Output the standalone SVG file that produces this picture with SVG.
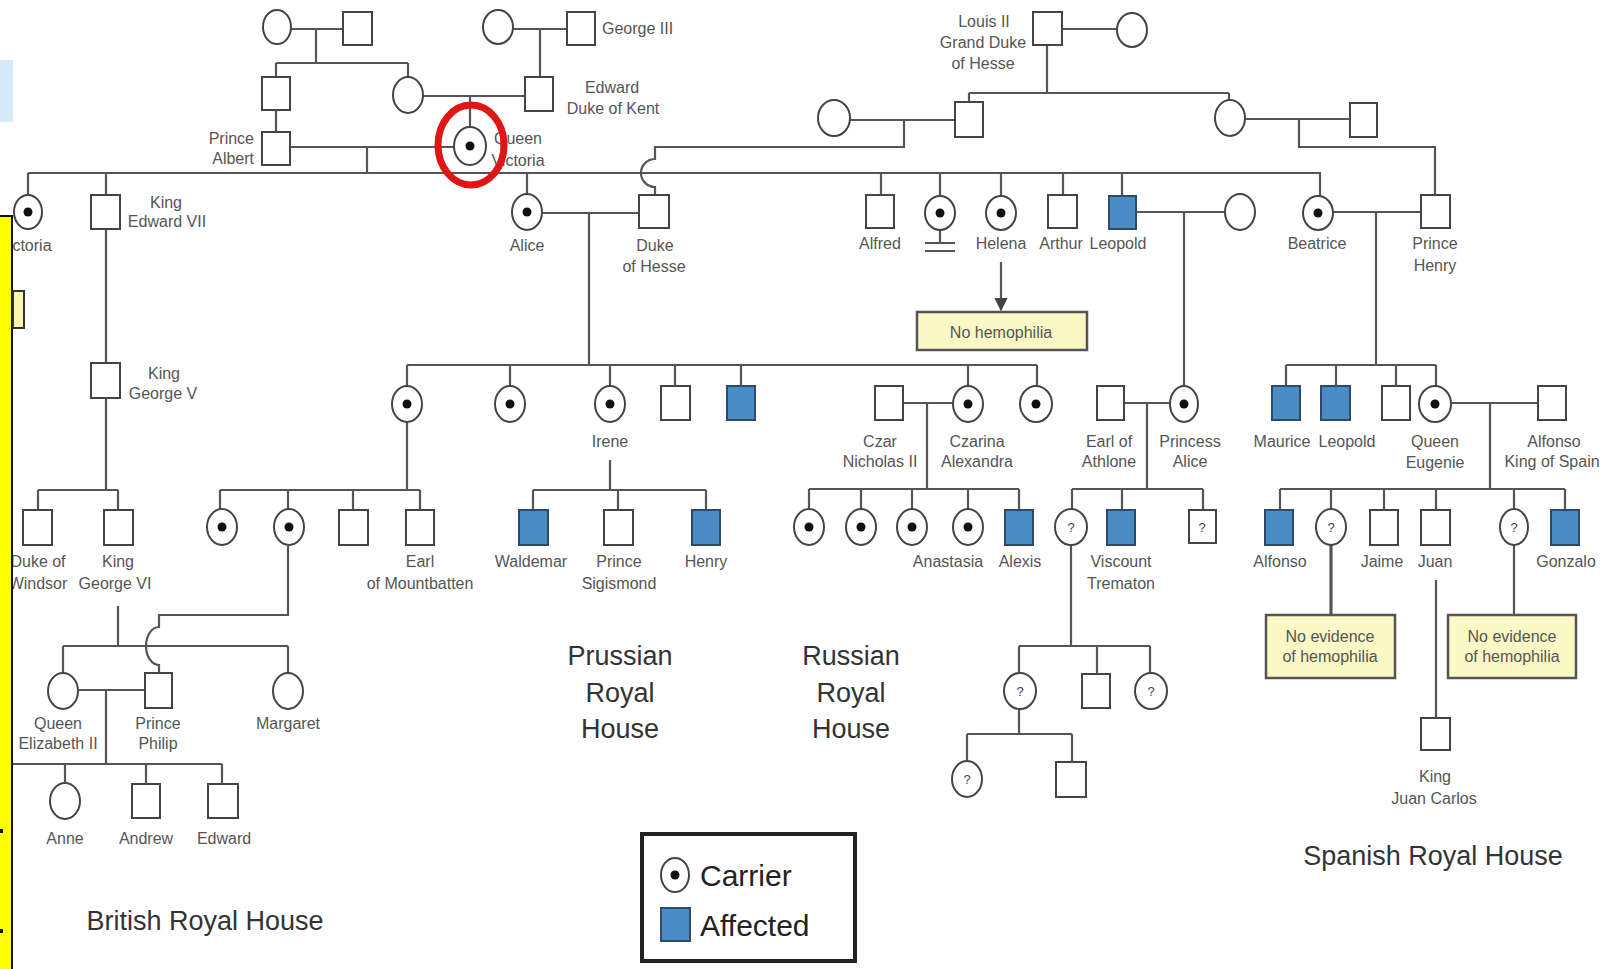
<svg xmlns="http://www.w3.org/2000/svg" width="1618" height="969" viewBox="0 0 1618 969">
<style>
.ln{stroke:#555;stroke-width:2.2;fill:none}
.thk{stroke:#555;stroke-width:3.2;fill:none}
.s{fill:#fff;stroke:#444;stroke-width:2}
.a{fill:#4b8bc6;stroke:#2f4a66;stroke-width:2}
.d{fill:#111}
.t{font-family:"Liberation Sans",Arial,sans-serif;font-size:16px;fill:#555;text-anchor:middle}
.e{text-anchor:end}
.st{text-anchor:start}
.q{font-size:13px;fill:#444}
.h{font-size:27px;fill:#333}
.lg{font-size:30px;fill:#222;text-anchor:start}
.box{fill:#fbf8c6;stroke:#555;stroke-width:2.5}
</style>
<defs>
<marker id="arr" viewBox="0 0 10 10" refX="9" refY="5" markerWidth="6" markerHeight="6" orient="auto"><path d="M0 0L10 5L0 10z" fill="#444"/></marker>
<clipPath id="cp"><rect x="0" y="0" width="1600" height="969"/></clipPath>
</defs>
<rect width="1618" height="969" fill="#fff"/>
<rect x="0" y="60" width="13" height="62" fill="#d6ebf8"/>
<g clip-path="url(#cp)">
<g id="connectors">
<path class="ln" d="M291 29H343M316 29V63M276 63H408M276 63V77M408 63V78"/>
<path class="ln" d="M513 29H567M540 29V77"/>
<path class="ln" d="M276 110V132M423 96H525M470 96V127M290 147H454M367 147V173"/>
<path class="ln" d="M28 173H1320V196M28 173V195M106 173V195M527 173V194M881 173V195M940 173V196M1001 173V196M1063 173V195M1122 173V196"/>
<path class="ln" d="M1062 29H1117M1047 45V93M969 93H1229M969 93V102M1229 93V101"/>
<path class="ln" d="M850 120H955M904 120V147H655V159a14 14 0 0 0 0 28V195"/>
<path class="ln" d="M1245 119H1350M1299 119V147H1435V195"/>
<path class="ln" d="M542 213H639M589 213V365M407 365H1037M407 365V386M510 365V386M610 365V386M675 365V386M741 365V386M968 365V386M1037 365V386"/>
<path class="ln" d="M610 460V490M533 490H706M533 490V510M618 490V510M706 490V510"/>
<path class="ln" d="M407 422V490M220 490H420M220 490V509M288 490V509M353 490V510M420 490V510"/>
<path class="ln" d="M288 546V615H159V627a13 19 0 0 0 0 38V673"/>
<path class="ln" d="M106 229V363M106 398V490M38 490H118M38 490V510M118 490V510"/>
<path class="ln" d="M118 606V646M63 646H288M63 646V673M288 646V673"/>
<path class="ln" d="M78 690H145M106 690V764M13 764H222M65 764V783M146 764V784M222 764V784"/>
<path class="ln" d="M940 230V243M925 243H955M925 251H955"/>
<path class="ln" d="M1136 212H1225M1184 212V386"/>
<path class="ln" d="M1001 262V310" marker-end="url(#arr)"/>
<path class="ln" d="M1333 212H1421M1376 212V365M1286 365H1436M1286 365V386M1336 365V386M1396 365V386M1436 365V386"/>
<path class="ln" d="M1451 403H1538M1490 403V489M1280 489H1565M1280 489V510M1331 489V510M1384 489V510M1436 489V510M1514 489V510M1565 489V510"/>
<path class="thk" d="M1331 545V615"/>
<path class="ln" d="M1514 545V615M1436 580V718"/>
<path class="ln" d="M903 403H953M927 403V489M809 489H1019M809 489V510M861 489V510M912 489V510M968 489V510M1019 489V510"/>
<path class="ln" d="M1124 403H1169M1147 403V489M1072 489H1203M1072 489V510M1122 489V510M1203 489V510"/>
<path class="ln" d="M1071 545V646M1019 646H1150M1019 646V673M1097 646V674M1150 646V673"/>
<path class="ln" d="M1019 709V734M967 734H1072M967 734V761M1072 734V762"/>
</g>
<g id="gen1-left-mother"><ellipse class="s" cx="277" cy="27" rx="14" ry="17"/></g>
<g id="gen1-left-father"><rect class="s" x="343" y="12" width="29" height="33"/></g>
<g id="queen-charlotte"><ellipse class="s" cx="498" cy="27" rx="15" ry="17"/></g>
<g id="george-iii"><rect class="s" x="567" y="12" width="28" height="33"/><text class="t st" x="602" y="34">George III</text></g>
<g id="albert-father"><rect class="s" x="262" y="77" width="28" height="33"/></g>
<g id="victoria-mother"><ellipse class="s" cx="408" cy="95" rx="15" ry="18"/></g>
<g id="edward-kent"><rect class="s" x="525" y="77" width="28" height="34"/><text class="t" x="612" y="93">Edward</text><text class="t" x="613" y="114">Duke of Kent</text></g>
<g id="prince-albert"><rect class="s" x="262" y="132" width="28" height="33"/><text class="t e" x="254" y="144">Prince</text><text class="t e" x="254" y="164">Albert</text></g>
<g id="queen-victoria"><text class="t" x="518" y="144">Queen</text><text class="t" x="518" y="166">Victoria</text><ellipse class="s" cx="470" cy="146" rx="16" ry="19"/><circle class="d" cx="470" cy="146" r="4.5"/><ellipse cx="471" cy="145" rx="33" ry="40" fill="none" stroke="#e01515" stroke-width="7"/></g>
<g id="louis-ii"><rect class="s" x="1033" y="12" width="29" height="33"/><text class="t" x="984" y="27">Louis II</text><text class="t" x="983" y="48">Grand Duke</text><text class="t" x="983" y="69">of Hesse</text></g>
<g id="louis-wife"><ellipse class="s" cx="1132" cy="30" rx="15" ry="17"/></g>
<g id="hesse-mother"><ellipse class="s" cx="834" cy="118" rx="16" ry="18"/></g>
<g id="hesse-father"><rect class="s" x="955" y="102" width="28" height="35"/></g>
<g id="henry-mother"><ellipse class="s" cx="1230" cy="118" rx="15" ry="18"/></g>
<g id="henry-father"><rect class="s" x="1350" y="103" width="27" height="34"/></g>
<g id="princess-victoria"><ellipse class="s" cx="28" cy="212" rx="14" ry="17"/><circle class="d" cx="28" cy="212" r="4.5"/><text class="t" x="25" y="251">Victoria</text></g>
<g id="edward-vii"><rect class="s" x="91" y="195" width="29" height="34"/><text class="t" x="166" y="208">King</text><text class="t" x="167" y="227">Edward VII</text></g>
<g id="alice"><ellipse class="s" cx="527" cy="212" rx="15" ry="18"/><circle class="d" cx="527" cy="212" r="4.5"/><text class="t" x="527" y="251">Alice</text></g>
<g id="duke-hesse"><rect class="s" x="639" y="195" width="30" height="33"/><text class="t" x="655" y="251">Duke</text><text class="t" x="654" y="272">of Hesse</text></g>
<g id="alfred"><rect class="s" x="866" y="195" width="28" height="33"/><text class="t" x="880" y="249">Alfred</text></g>
<g id="louise"><ellipse class="s" cx="940" cy="213" rx="15" ry="17"/><circle class="d" cx="940" cy="213" r="4.5"/></g>
<g id="helena"><ellipse class="s" cx="1001" cy="213" rx="15" ry="17"/><circle class="d" cx="1001" cy="213" r="4.5"/><text class="t" x="1001" y="249">Helena</text></g>
<g id="arthur"><rect class="s" x="1048" y="195" width="29" height="33"/><text class="t" x="1061" y="249">Arthur</text></g>
<g id="leopold"><rect class="a" x="1109" y="196" width="27" height="33"/><text class="t" x="1118" y="249">Leopold</text></g>
<g id="leopold-wife"><ellipse class="s" cx="1240" cy="212" rx="15" ry="18"/></g>
<g id="beatrice"><ellipse class="s" cx="1318" cy="213" rx="15" ry="17"/><circle class="d" cx="1318" cy="213" r="4.5"/><text class="t" x="1317" y="249">Beatrice</text></g>
<g id="prince-henry"><rect class="s" x="1421" y="195" width="29" height="33"/><text class="t" x="1435" y="249">Prince</text><text class="t" x="1435" y="271">Henry</text></g>
<g id="no-hemophilia"><rect class="box" x="917" y="312" width="170" height="38"/><text class="t" x="1001" y="338" fill="#333">No hemophilia</text></g>
<g id="george-v"><rect class="s" x="91" y="363" width="29" height="35"/><text class="t" x="164" y="379">King</text><text class="t" x="163" y="399">George V</text></g>
<g id="alice-c1"><ellipse class="s" cx="407" cy="404" rx="15" ry="18"/><circle class="d" cx="407" cy="404" r="4.5"/></g>
<g id="alice-c2"><ellipse class="s" cx="510" cy="404" rx="15" ry="18"/><circle class="d" cx="510" cy="404" r="4.5"/></g>
<g id="irene"><ellipse class="s" cx="610" cy="404" rx="15" ry="18"/><circle class="d" cx="610" cy="404" r="4.5"/><text class="t" x="610" y="447">Irene</text></g>
<g id="alice-c4"><rect class="s" x="661" y="386" width="29" height="34"/></g>
<g id="alice-c5"><rect class="a" x="727" y="386" width="28" height="34"/></g>
<g id="czar-nicholas"><rect class="s" x="875" y="386" width="28" height="34"/><text class="t" x="880" y="447">Czar</text><text class="t" x="880" y="467">Nicholas II</text></g>
<g id="czarina"><ellipse class="s" cx="968" cy="404" rx="15" ry="18"/><circle class="d" cx="968" cy="404" r="4.5"/><text class="t" x="977" y="447">Czarina</text><text class="t" x="977" y="467">Alexandra</text></g>
<g id="alice-c7"><ellipse class="s" cx="1036" cy="404" rx="16" ry="18"/><circle class="d" cx="1036" cy="404" r="4.5"/></g>
<g id="earl-athlone"><rect class="s" x="1097" y="386" width="27" height="34"/><text class="t" x="1109" y="447">Earl of</text><text class="t" x="1109" y="467">Athlone</text></g>
<g id="princess-alice"><ellipse class="s" cx="1184" cy="404" rx="14" ry="18"/><circle class="d" cx="1184" cy="404" r="4.5"/><text class="t" x="1190" y="447">Princess</text><text class="t" x="1190" y="467">Alice</text></g>
<g id="maurice"><rect class="a" x="1272" y="386" width="28" height="34"/><text class="t" x="1282" y="447">Maurice</text></g>
<g id="leopold-b"><rect class="a" x="1321" y="386" width="29" height="34"/><text class="t" x="1347" y="447">Leopold</text></g>
<g id="beatrice-c3"><rect class="s" x="1382" y="386" width="28" height="34"/></g>
<g id="queen-eugenie"><ellipse class="s" cx="1435" cy="404" rx="16" ry="18"/><circle class="d" cx="1435" cy="404" r="4.5"/><text class="t" x="1435" y="447">Queen</text><text class="t" x="1435" y="468">Eugenie</text></g>
<g id="alfonso-king"><rect class="s" x="1538" y="386" width="28" height="34"/><text class="t" x="1554" y="447">Alfonso</text><text class="t" x="1552" y="467">King of Spain</text></g>
<g id="duke-windsor"><rect class="s" x="23" y="510" width="29" height="35"/><text class="t" x="38" y="567">Duke of</text><text class="t" x="38" y="589">Windsor</text></g>
<g id="george-vi"><rect class="s" x="104" y="510" width="29" height="35"/><text class="t" x="118" y="567">King</text><text class="t" x="115" y="589">George VI</text></g>
<g id="mb-c1"><ellipse class="s" cx="222" cy="527" rx="15" ry="18"/><circle class="d" cx="222" cy="527" r="4.5"/></g>
<g id="mb-c2"><ellipse class="s" cx="289" cy="527" rx="15" ry="18"/><circle class="d" cx="289" cy="527" r="4.5"/></g>
<g id="mb-c3"><rect class="s" x="339" y="510" width="29" height="35"/></g>
<g id="earl-mountbatten"><rect class="s" x="406" y="510" width="28" height="35"/><text class="t" x="420" y="567">Earl</text><text class="t" x="420" y="589">of Mountbatten</text></g>
<g id="waldemar"><rect class="a" x="519" y="510" width="29" height="35"/><text class="t" x="531" y="567">Waldemar</text></g>
<g id="sigismond"><rect class="s" x="604" y="510" width="29" height="35"/><text class="t" x="619" y="567">Prince</text><text class="t" x="619" y="589">Sigismond</text></g>
<g id="henry"><rect class="a" x="692" y="510" width="28" height="35"/><text class="t" x="706" y="567">Henry</text></g>
<g id="olga"><ellipse class="s" cx="809" cy="527" rx="15" ry="18"/><circle class="d" cx="809" cy="527" r="4.5"/></g>
<g id="tatiana"><ellipse class="s" cx="861" cy="527" rx="15" ry="18"/><circle class="d" cx="861" cy="527" r="4.5"/></g>
<g id="maria"><ellipse class="s" cx="912" cy="527" rx="15" ry="18"/><circle class="d" cx="912" cy="527" r="4.5"/></g>
<g id="anastasia"><ellipse class="s" cx="968" cy="527" rx="15" ry="18"/><circle class="d" cx="968" cy="527" r="4.5"/><text class="t" x="948" y="567">Anastasia</text></g>
<g id="alexis"><rect class="a" x="1005" y="510" width="28" height="35"/><text class="t" x="1020" y="567">Alexis</text></g>
<g id="athlone-c1"><ellipse class="s" cx="1071" cy="527" rx="16" ry="18"/><text class="t q" x="1071" y="532">?</text></g>
<g id="trematon"><rect class="a" x="1107" y="510" width="28" height="35"/><text class="t" x="1121" y="567">Viscount</text><text class="t" x="1121" y="589">Trematon</text></g>
<g id="athlone-c3"><rect class="s" x="1189" y="510" width="27" height="33"/><text class="t q" x="1202" y="532">?</text></g>
<g id="alfonso"><rect class="a" x="1265" y="510" width="28" height="35"/><text class="t" x="1280" y="567">Alfonso</text></g>
<g id="beatriz"><ellipse class="s" cx="1331" cy="527" rx="15" ry="18"/><text class="t q" x="1331" y="532">?</text></g>
<g id="jaime"><rect class="s" x="1370" y="510" width="28" height="35"/><text class="t" x="1382" y="567">Jaime</text></g>
<g id="juan"><rect class="s" x="1421" y="510" width="29" height="35"/><text class="t" x="1435" y="567">Juan</text></g>
<g id="maria-cristina"><ellipse class="s" cx="1514" cy="527" rx="14" ry="18"/><text class="t q" x="1514" y="532">?</text></g>
<g id="gonzalo"><rect class="a" x="1551" y="510" width="28" height="35"/><text class="t" x="1566" y="567">Gonzalo</text></g>
<g id="no-evidence-1"><rect class="box" x="1266" y="615" width="129" height="63"/><text class="t" x="1330" y="642" fill="#333">No evidence</text><text class="t" x="1330" y="662" fill="#333">of hemophilia</text></g>
<g id="no-evidence-2"><rect class="box" x="1448" y="615" width="128" height="63"/><text class="t" x="1512" y="642" fill="#333">No evidence</text><text class="t" x="1512" y="662" fill="#333">of hemophilia</text></g>
<g id="elizabeth-ii"><ellipse class="s" cx="63" cy="691" rx="15" ry="18"/><text class="t" x="58" y="729">Queen</text><text class="t" x="58" y="749">Elizabeth II</text></g>
<g id="prince-philip"><rect class="s" x="145" y="673" width="27" height="35"/><text class="t" x="158" y="729">Prince</text><text class="t" x="158" y="749">Philip</text></g>
<g id="margaret"><ellipse class="s" cx="288" cy="691" rx="15" ry="18"/><text class="t" x="288" y="729">Margaret</text></g>
<g id="anne"><ellipse class="s" cx="65" cy="801" rx="15" ry="18"/><text class="t" x="65" y="844">Anne</text></g>
<g id="andrew"><rect class="s" x="132" y="784" width="28" height="34"/><text class="t" x="146" y="844">Andrew</text></g>
<g id="edward"><rect class="s" x="208" y="784" width="30" height="34"/><text class="t" x="224" y="844">Edward</text></g>
<g id="athlone-gc1"><ellipse class="s" cx="1020" cy="691" rx="16" ry="18"/><text class="t q" x="1020" y="696">?</text></g>
<g id="athlone-gc2"><rect class="s" x="1082" y="674" width="28" height="34"/></g>
<g id="athlone-gc3"><ellipse class="s" cx="1151" cy="691" rx="16" ry="18"/><text class="t q" x="1151" y="696">?</text></g>
<g id="athlone-ggc1"><ellipse class="s" cx="967" cy="779" rx="15" ry="18"/><text class="t q" x="967" y="784">?</text></g>
<g id="athlone-ggc2"><rect class="s" x="1056" y="762" width="30" height="35"/></g>
<g id="juan-carlos"><rect class="s" x="1421" y="718" width="29" height="32"/><text class="t" x="1435" y="782">King</text><text class="t" x="1434" y="804">Juan Carlos</text></g>
<g id="house-labels">
<text class="t h" x="620" y="665">Prussian</text><text class="t h" x="620" y="702">Royal</text><text class="t h" x="620" y="738">House</text>
<text class="t h" x="851" y="665">Russian</text><text class="t h" x="851" y="702">Royal</text><text class="t h" x="851" y="738">House</text>
<text class="t h" x="205" y="930">British Royal House</text>
<text class="t h" x="1433" y="865">Spanish Royal House</text>
</g>
<g id="legend">
<rect x="642" y="834" width="213" height="127" fill="#fff" stroke="#222" stroke-width="4"/>
<ellipse class="s" cx="675" cy="875" rx="14" ry="17"/><circle class="d" cx="675" cy="875" r="4.5"/>
<text class="t lg" x="700" y="886">Carrier</text>
<rect class="a" x="661" y="908" width="29" height="33"/>
<text class="t lg" x="700" y="936">Affected</text>
</g>
</g>
<g id="slide-edge">
<rect x="-2" y="216" width="14" height="760" fill="#ffff00" stroke="#111" stroke-width="2"/>
<rect x="13" y="291" width="11" height="37" fill="#fbf6b0" stroke="#333" stroke-width="2"/>
<rect x="0" y="829" width="3" height="4" fill="#111"/>
<rect x="0" y="929" width="3" height="4" fill="#111"/>
</g>
</svg>
